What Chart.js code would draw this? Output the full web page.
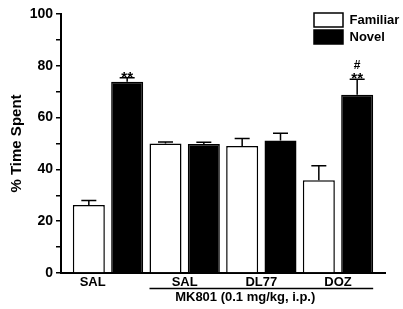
<!DOCTYPE html>
<html><head><meta charset="utf-8">
<script src="https://cdn.jsdelivr.net/npm/chart.js@4"></script>
<style>html,body{margin:0;padding:0;background:#fff}#wrap{width:403px;height:309px}</style>
</head><body><div id="wrap"><canvas id="c"></canvas></div>
<script>
// ---- data ----
const groups = ['SAL', 'SAL', 'DL77', 'DOZ'];
const groupPos = [1, 2, 3, 4];
const labelPos = [0.8, 2, 3, 4];
const familiar = [26.3, 50.0, 49.0, 35.8];
const familiarErr = [1.7, 0.6, 2.9, 5.6];
const novel = [73.8, 49.8, 51.2, 68.8];
const novelErr = [1.6, 0.7, 2.8, 6.0];
const novelStars = ['**', '', '', '**'];
const novelHash = ['', '', '', '#'];
const yTicks = [0, 20, 40, 60, 80, 100];
const bracketText = 'MK801 (0.1 mg/kg, i.p.)';
const bracketFrom = 1;  // group index where bracket starts
const yTitle = '% Time Spent';

const FONT = "'Liberation Sans', Arial, Helvetica, sans-serif";
Chart.defaults.font.family = FONT;
Chart.defaults.font.weight = 'bold';
Chart.defaults.font.size = 13;
Chart.defaults.color = '#000';

const XMIN = 0.387, XMAX = 4.613;

const errorPlugin = {
  id: 'errorBars',
  afterDatasetsDraw(chart) {
    const ctx = chart.ctx;
    const ys = chart.scales.y;
    ctx.save();
    ctx.strokeStyle = '#000';
    ctx.lineWidth = 1.5;
    chart.data.datasets.forEach((ds, d) => {
      const meta = chart.getDatasetMeta(d);
      meta.data.forEach((bar, i) => {
        const v = ds.data[i].y, e = ds.errors[i];
        const yTop = ys.getPixelForValue(v + e);
        ctx.beginPath();
        ctx.moveTo(bar.x, bar.y);
        ctx.lineTo(bar.x, yTop);
        ctx.moveTo(bar.x - 7.5, yTop);
        ctx.lineTo(bar.x + 7.5, yTop);
        ctx.stroke();
        ctx.fillStyle = '#000';
        ctx.textAlign = 'center';
        ctx.textBaseline = 'alphabetic';
        if (ds.stars && ds.stars[i]) {
          ctx.font = 'bold 15px ' + FONT;
          ctx.fillText(ds.stars[i], bar.x, yTop + 4);
        }
        if (ds.hash && ds.hash[i]) {
          ctx.font = 'bold 12px ' + FONT;
          ctx.fillText(ds.hash[i], bar.x, yTop - 10);
        }
      });
    });
    ctx.restore();
  },
  afterDraw(chart) {
    const ctx = chart.ctx;
    const m0 = chart.getDatasetMeta(0), m1 = chart.getDatasetMeta(1);
    const b0 = m0.data[bracketFrom], b1 = m1.data[m1.data.length - 1];
    const x0 = b0.x - b0.width / 2, x1 = b1.x + b1.width / 2;
    const xs = chart.scales.x;
    ctx.save();
    ctx.strokeStyle = '#000';
    ctx.lineWidth = 1.5;
    ctx.beginPath();
    ctx.moveTo(x0, 288.5);
    ctx.lineTo(x1, 288.5);
    ctx.stroke();
    ctx.fillStyle = '#000';
    ctx.font = 'bold 13px ' + FONT;
    ctx.textAlign = 'center';
    ctx.textBaseline = 'middle';
    ctx.fillText(bracketText, xs.getPixelForValue(2.79), 297.5);
    ctx.restore();
  }
};

const legendPlace = {
  id: 'legendPlace',
  afterLayout(chart) {
    const lg = chart.legend;
    lg.left = 311; lg.top = 10; lg.right = 403; lg.bottom = 60;
  }
};

new Chart(document.getElementById('c'), {
  type: 'bar',
  data: {
    datasets: [
      { label: 'Familiar', data: groupPos.map((x, i) => ({ x, y: familiar[i] })),
        errors: familiarErr, backgroundColor: '#fff', borderColor: '#000', borderWidth: 1.5,
        xAxisID: 'x', yAxisID: 'y' },
      { label: 'Novel', data: groupPos.map((x, i) => ({ x, y: novel[i] })),
        errors: novelErr, stars: novelStars, hash: novelHash,
        backgroundColor: '#000', borderColor: '#000', borderWidth: 1.5,
        xAxisID: 'x', yAxisID: 'y' }
    ]
  },
  options: {
    responsive: true,
    maintainAspectRatio: false,
    animation: false,
    categoryPercentage: 1.0,
    barPercentage: 0.835,
    layout: { padding: { left: 0, right: 18, top: 14, bottom: 22 } },
    plugins: {
      tooltip: { enabled: false },
      legend: {
        position: 'chartArea', align: 'start',
        labels: { boxWidth: 29, boxHeight: 14, padding: 3, color: '#000',
          font: { size: 13, weight: 'bold', family: FONT } }
      }
    },
    scales: {
      x: {
        type: 'linear', position: 'bottom', min: XMIN, max: XMAX, weight: 0, offset: false,
        afterBuildTicks: s => { s.ticks = groupPos.map(v => ({ value: v })); },
        ticks: { display: false },
        grid: { display: false, drawTicks: false, offset: false },
        border: { display: true, color: '#000', width: 2 }
      },
      xl: {
        type: 'linear', position: 'bottom', min: XMIN, max: XMAX, weight: 1, offset: false,
        afterBuildTicks: s => { s.ticks = labelPos.map(v => ({ value: v })); },
        ticks: { callback: (v, i) => groups[i], autoSkip: false, maxRotation: 0, padding: 2,
          color: '#000', font: { size: 13, weight: 'bold', family: FONT } },
        grid: { display: false, drawTicks: false, offset: false },
        border: { display: false },
        afterFit: s => { s.height = 14; }
      },
      y: {
        min: 0, max: 100,
        ticks: { stepSize: 10, padding: 3, color: '#000',
          callback: v => yTicks.includes(v) ? String(v) : '',
          font: { size: 14, weight: 'bold', family: FONT } },
        grid: { display: true, drawOnChartArea: false, drawTicks: true, tickLength: 5,
          tickColor: '#000', tickWidth: 1.5, lineWidth: 1.5 },
        border: { display: true, color: '#000', width: 2 },
        title: { display: true, text: yTitle, color: '#000',
          font: { size: 15, weight: 'bold', family: FONT }, padding: { top: 8, bottom: 0 } },
        afterFit: s => { s.width = 61; }
      }
    }
  },
  plugins: [errorPlugin, legendPlace]
});
</script>
</body></html>
